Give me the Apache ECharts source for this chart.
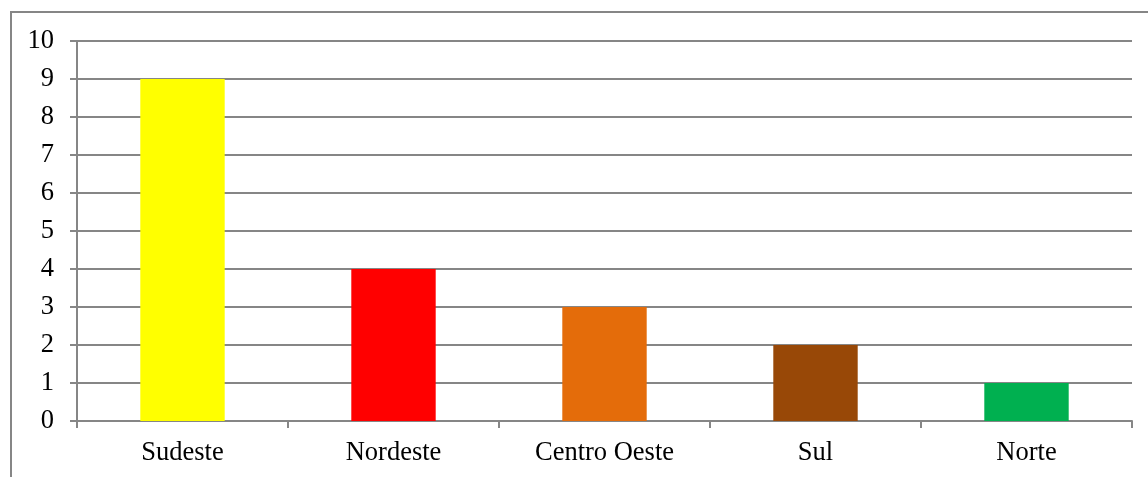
<!DOCTYPE html>
<html>
<head>
<meta charset="utf-8">
<script src="https://cdn.jsdelivr.net/npm/echarts@6/dist/echarts.min.js"></script>
<style>
  html, body { margin: 0; padding: 0; background: #fff; }
  #chart { width: 1148px; height: 477px; }
</style>
</head>
<body>
<div id="chart"></div>
<script>
// Regions and their counts
const regions = ['Sudeste', 'Nordeste', 'Centro Oeste', 'Sul', 'Norte'];
const counts = [9, 4, 3, 2, 1];
const barColors = ['#FFFF00', '#FF0000', '#E46C0A', '#984807', '#00B050'];

const axisGray = '#868686';
const font = '"Liberation Serif", "Times New Roman", serif';

const chart = echarts.init(document.getElementById('chart'), null, { renderer: 'canvas' });

chart.setOption({
  animation: false,
  backgroundColor: '#ffffff',
  graphic: [{
    type: 'rect',
    shape: { x: 11, y: 12, width: 1200, height: 520 },
    style: { fill: 'none', stroke: axisGray, lineWidth: 2 },
    silent: true
  }],
  grid: { left: 77, right: 16, top: 41, bottom: 56 },
  xAxis: {
    type: 'category',
    data: regions,
    boundaryGap: true,
    axisLine: { show: true, lineStyle: { color: axisGray, width: 2 } },
    axisTick: { show: true, length: 7, alignWithLabel: false, lineStyle: { color: axisGray, width: 2 } },
    axisLabel: { color: '#000', fontFamily: font, fontSize: 26.5, margin: 19 },
    splitLine: { show: false }
  },
  yAxis: {
    type: 'value',
    min: 0,
    max: 10,
    interval: 1,
    axisLine: { show: true, lineStyle: { color: axisGray, width: 2 } },
    axisTick: { show: true, length: 7, lineStyle: { color: axisGray, width: 2 } },
    axisLabel: { color: '#000', fontFamily: font, fontSize: 26.5, margin: 23 },
    splitLine: { show: true, lineStyle: { color: axisGray, width: 2 } }
  },
  series: [{
    type: 'bar',
    barWidth: '40%',
    data: counts.map((v, i) => ({ value: v, itemStyle: { color: barColors[i] } })),
    z: 1
  }]
});
</script>
</body>
</html>
